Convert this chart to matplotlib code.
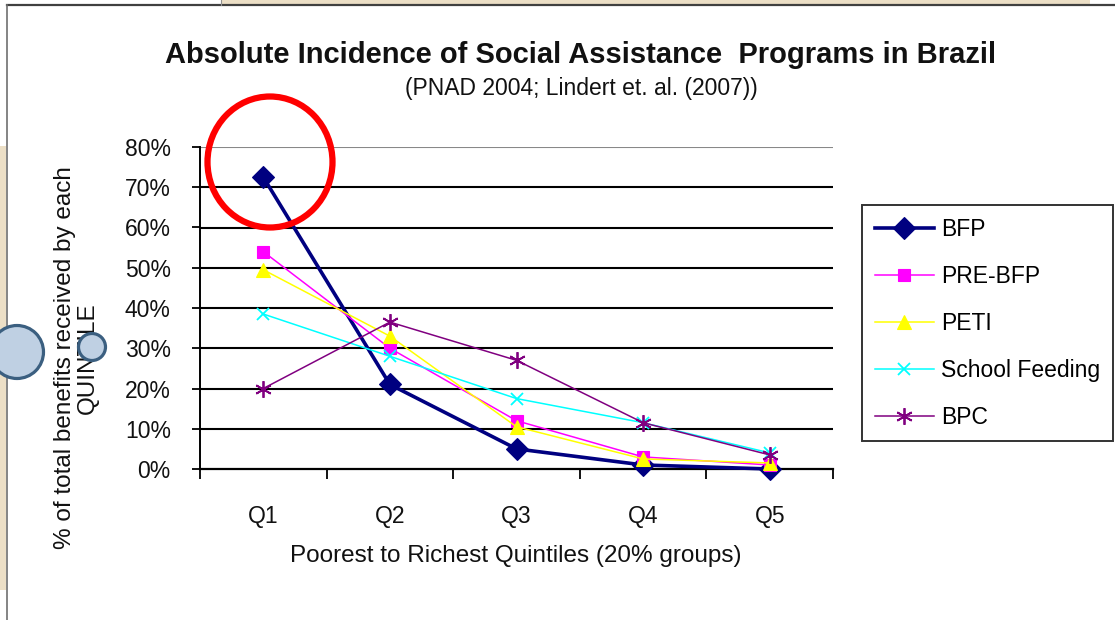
import numpy as np
import matplotlib
matplotlib.use("Agg")
from matplotlib import pyplot as plt
from matplotlib.patches import Ellipse, Rectangle
from matplotlib.lines import Line2D
from matplotlib.ticker import FixedLocator, PercentFormatter

plt.rcParams["font.family"] = ["Liberation Sans", "DejaVu Sans"]

quintiles = ["Q1", "Q2", "Q3", "Q4", "Q5"]
bfp = [0.725, 0.21, 0.05, 0.01, 0.0]
pre_bfp = [0.54, 0.30, 0.12, 0.03, 0.01]
peti = [0.495, 0.33, 0.105, 0.025, 0.015]
school_feeding = [0.385, 0.28, 0.175, 0.115, 0.04]
bpc = [0.20, 0.365, 0.27, 0.115, 0.035]

series = [
    ("BFP", bfp, "#000080", "D", 11.5, 2.6),
    ("PRE-BFP", pre_bfp, "#ff00ff", "s", 9, 1.1),
    ("PETI", peti, "#ffff00", "^", 10, 1.1),
    ("School Feeding", school_feeding, "#00ffff", "x", 9, 1.1),
    ("BPC", bpc, "#800080", (6, 2, 0), 12, 1.1),
]

W, H = 1115, 620
fig = plt.figure(figsize=(W / 100, H / 100), dpi=100)
fig.patch.set_facecolor("white")

def fx(px): return px / W
def fy(py): return 1 - py / H

# slide background bits
fig.add_artist(Rectangle((fx(221), fy(4)), fx(1090) - fx(221), 4 / H,
                         transform=fig.transFigure, facecolor="#ecdfc6", edgecolor="none"))
fig.add_artist(Rectangle((0, fy(590)), fx(6), (590 - 146) / H,
                         transform=fig.transFigure, facecolor="#ecdfc6", edgecolor="none"))
fig.add_artist(Line2D([fx(7), 1], [fy(5), fy(5)], transform=fig.transFigure,
                      color="#404040", lw=1.6))
fig.add_artist(Line2D([fx(7), fx(7)], [fy(5), 0], transform=fig.transFigure,
                      color="#707070", lw=1.2))
fig.add_artist(Line2D([fx(221), fx(221)], [1, fy(5)], transform=fig.transFigure,
                      color="#909090", lw=0.8))

ax = fig.add_axes([fx(200), fy(469), fx(833) - fx(200), (469 - 147) / H])
x = np.arange(len(quintiles))

for label, vals, color, marker, ms, lw in series:
    ax.plot(x, vals, color=color, marker=marker, markersize=ms, lw=lw,
            label=label, clip_on=False, zorder=3,
            markeredgewidth=1.3 if marker in ("x", (6, 2, 0)) else 0.8)

ax.set_xlim(-0.5, 4.5)
ax.set_ylim(0, 0.8)
ax.yaxis.set_major_locator(FixedLocator(np.arange(0, 0.81, 0.1)))
ax.yaxis.set_major_formatter(PercentFormatter(1.0, decimals=0))
ax.xaxis.set_major_locator(FixedLocator(np.arange(-0.5, 4.6, 1.0)))
ax.xaxis.set_minor_locator(FixedLocator(x))
ax.set_xticklabels([], minor=False)
ax.set_xticklabels(quintiles, minor=True)
ax.tick_params(axis="x", which="major", direction="out", length=7, width=1.3, color="black")
ax.tick_params(axis="x", which="minor", length=0, pad=26, labelsize=16.5)
ax.tick_params(axis="y", direction="out", length=6, width=1.3, pad=15, labelsize=16.5)
for t in ax.get_xticklabels(minor=True) + ax.get_yticklabels():
    t.set_color("#111111")

for v in np.arange(0.1, 0.75, 0.1):
    ax.axhline(v, color="black", lw=1.5, zorder=1)
ax.axhline(0.8, color="#888888", lw=1.5, zorder=1)
for side in ("top", "right"):
    ax.spines[side].set_visible(False)
ax.spines["left"].set_linewidth(1.4)
ax.spines["bottom"].set_linewidth(1.6)

leg = ax.legend(loc="upper left", bbox_to_anchor=(fx(862), fy(205)),
                bbox_transform=fig.transFigure, fontsize=16.5, frameon=True,
                fancybox=False, edgecolor="black", handlelength=2.6,
                handletextpad=0.3, labelspacing=1.05, borderpad=0.55,
                borderaxespad=0)
leg.get_frame().set_linewidth(1.4)

fig.text(fx(581), fy(55), "Absolute Incidence of Social Assistance  Programs in Brazil",
         ha="center", va="center", fontsize=21, fontweight="bold", color="#111111")
fig.text(fx(581), fy(88), "(PNAD 2004; Lindert et. al. (2007))",
         ha="center", va="center", fontsize=16.5, color="#111111")
fig.text(fx(516), fy(556), "Poorest to Richest Quintiles (20% groups)",
         ha="center", va="center", fontsize=17.5, color="#111111")
fig.text(fx(76), fy(358), "% of total benefits received by each\nQUINTILE",
         ha="center", va="center", rotation=90, fontsize=17.5, color="#111111",
         multialignment="center", linespacing=1.05)

# red highlight ellipse around the Q1 BFP point
fig.add_artist(Ellipse((fx(270), fy(162)), 125 / W, 131 / H, transform=fig.transFigure,
                       fill=False, edgecolor="#ff0000", lw=4.5, zorder=10))
# slide handle circles
fig.add_artist(Ellipse((fx(17), fy(352)), 53 / W, 53 / H, transform=fig.transFigure,
                       facecolor="#bfd0e3", edgecolor="#3b5f80", lw=2.3, zorder=10))
fig.add_artist(Ellipse((fx(92), fy(347)), 27 / W, 27 / H, transform=fig.transFigure,
                       facecolor="#bfd0e3", edgecolor="#3b5f80", lw=2.3, zorder=10))

fig.savefig("out.png", dpi=100)
